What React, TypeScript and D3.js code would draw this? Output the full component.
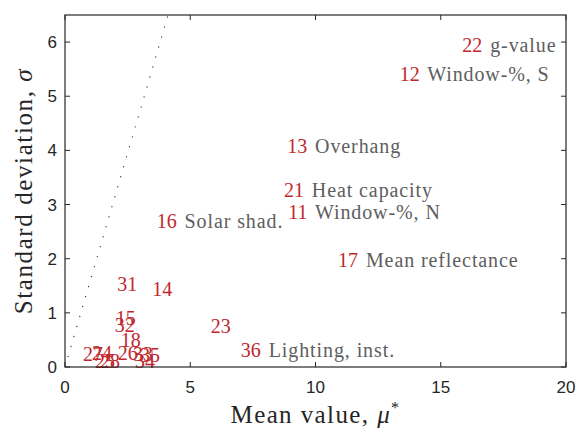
import React from "react";
import * as d3 from "d3";

const ids = [22, 12, 13, 21, 11, 17, 16, 14, 23, 36, 31, 15, 32, 18, 27, 24, 26, 33, 35, 25, 28, 34];
const names = [
  "g-value", "Window-%, S", "Overhang", "Heat capacity", "Window-%, N", "Mean reflectance",
  "Solar shad.", "", "", "Lighting, inst.", "", "", "", "", "", "", "", "", "", "", "", "",
];
const muStar = [15.86, 13.36, 8.87, 8.74, 8.91, 10.9, 3.66, 3.48, 5.82, 7.02, 2.09, 2.03, 1.99, 2.23, 0.72, 1.08, 2.11, 2.71, 2.99, 1.2, 1.4, 2.79];
const sigma = [5.94, 5.41, 4.08, 3.26, 2.86, 1.97, 2.69, 1.44, 0.76, 0.31, 1.53, 0.9, 0.77, 0.5, 0.24, 0.26, 0.26, 0.24, 0.22, 0.11, 0.11, 0.11];
const xTicks = [0, 5, 10, 15, 20];
const yTicks = [0, 1, 2, 3, 4, 5, 6];
const refSlope = 1.58;
const refMu = [0, 20];

const W = 579, H = 428;
const M = { left: 65, right: 13, top: 15, bottom: 61 };

export default function App() {
  const x = d3.scaleLinear().domain([0, 20]).range([M.left, W - M.right]);
  const y = d3.scaleLinear().domain([0, 6.5]).range([H - M.bottom, M.top]);
  const x0 = M.left, x1 = W - M.right, y0 = H - M.bottom, y1 = M.top;
  const axisColor = "#262626";
  const red = "#c1272d";
  const gray = "#5e5e5e";
  const tickLen = 5;
  const line = d3.line<number>().x((m) => x(m)).y((m) => y(m * refSlope));
  return (
    <svg width={W} height={H} style={{ position: "absolute", left: 0, top: 0, background: "#fff" }}>
      <defs>
        <clipPath id="plot">
          <rect x={x0} y={y1} width={x1 - x0} height={y0 - y1} />
        </clipPath>
      </defs>
      <rect x={0} y={0} width={W} height={H} fill="#fff" />
      <path
        d={line(refMu) || ""}
        clipPath="url(#plot)"
        stroke="#333"
        strokeWidth={1.1}
        strokeDasharray="1.2 9.2"
        fill="none"
      />
      {ids.map((id, i) => (
        <text
          key={id}
          x={x(muStar[i])}
          y={y(sigma[i]) + 7}
          fontFamily="'Liberation Serif', serif"
          fontSize={20}
        >
          <tspan fill={red}>{id}</tspan>
          {names[i] ? (
            <tspan fill={gray} letterSpacing={0.9} dx={2}>{" " + names[i]}</tspan>
          ) : null}
        </text>
      ))}
      <rect x={x0} y={y1} width={x1 - x0} height={y0 - y1} fill="none" stroke={axisColor} strokeWidth={1.2} />
      {xTicks.map((t) => (
        <g key={"x" + t}>
          <line x1={x(t)} x2={x(t)} y1={y0} y2={y0 - tickLen} stroke={axisColor} />
          <line x1={x(t)} x2={x(t)} y1={y1} y2={y1 + tickLen} stroke={axisColor} />
          <text x={x(t)} y={393} textAnchor="middle" fontFamily="'Liberation Sans', Arial, sans-serif" fontSize={17} fill={axisColor}>
            {t}
          </text>
        </g>
      ))}
      {yTicks.map((t) => (
        <g key={"y" + t}>
          <line x1={x0} x2={x0 + tickLen} y1={y(t)} y2={y(t)} stroke={axisColor} />
          <line x1={x1} x2={x1 - tickLen} y1={y(t)} y2={y(t)} stroke={axisColor} />
          <text x={57} y={y(t) + 6} textAnchor="end" fontFamily="'Liberation Sans', Arial, sans-serif" fontSize={17} fill={axisColor}>
            {t}
          </text>
        </g>
      ))}
      <text x={(x0 + x1) / 2} y={423} textAnchor="middle" fontFamily="'Liberation Serif', serif" fontSize={25} letterSpacing={1.4} fill={axisColor}>
        Mean value, <tspan fontStyle="italic">μ</tspan>
        <tspan fontSize={16} dy={-10}>*</tspan>
      </text>
      <text
        transform={`translate(32, ${(y0 + y1) / 2}) rotate(-90)`}
        textAnchor="middle"
        fontFamily="'Liberation Serif', serif"
        fontSize={25}
        letterSpacing={1.6}
        fill={axisColor}
      >
        Standard deviation, <tspan fontStyle="italic">σ</tspan>
      </text>
    </svg>
  );
}
